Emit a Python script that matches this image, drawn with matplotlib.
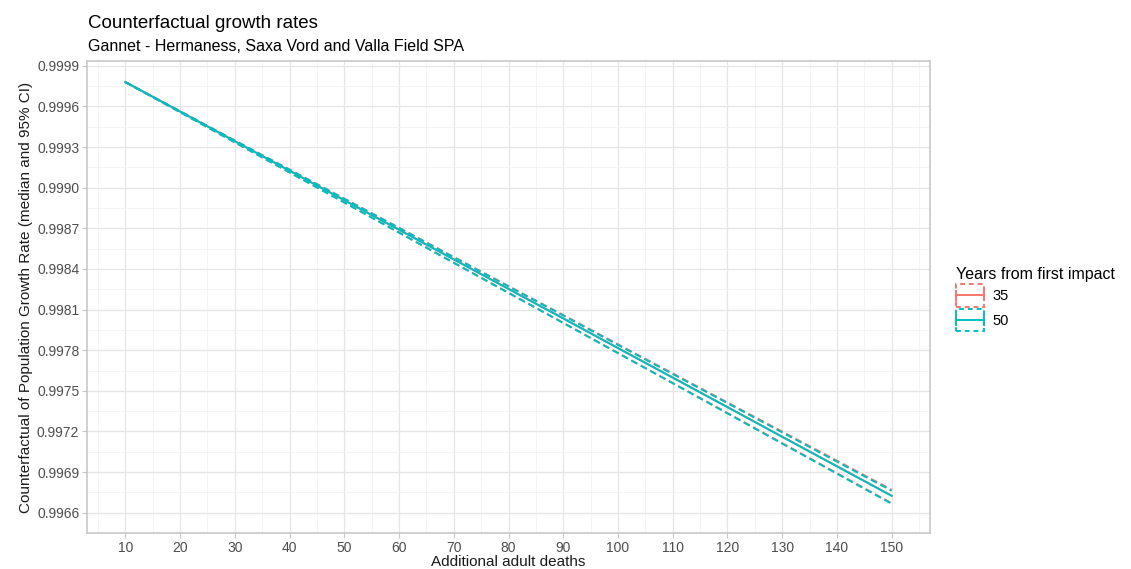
import matplotlib
matplotlib.use("Agg")
import matplotlib.pyplot as plt
from matplotlib.legend_handler import HandlerBase
from matplotlib.lines import Line2D
from matplotlib.patches import Rectangle
import numpy as np

plt.rcParams['font.family'] = ['Liberation Sans', 'DejaVu Sans']

# Additional adult deaths
deaths = [10, 20, 30, 40, 50, 60, 70, 80, 90, 100, 110, 120, 130, 140, 150]

# 35 years from first impact
med_35 = [0.999782, 0.999564, 0.999345, 0.999127, 0.998909, 0.998691, 0.998472,
          0.998254, 0.998036, 0.997817, 0.997599, 0.997381, 0.997162, 0.996944, 0.996726]
upr_35 = [0.999780, 0.999565, 0.999349, 0.999135, 0.998920, 0.998705, 0.998489,
          0.998274, 0.998060, 0.997844, 0.997629, 0.997414, 0.997199, 0.996984, 0.996769]
lwr_35 = [0.999780, 0.999558, 0.999335, 0.999113, 0.998892, 0.998670, 0.998447,
          0.998225, 0.998003, 0.997780, 0.997558, 0.997337, 0.997114, 0.996892, 0.996670]

# 50 years from first impact
med_50 = [0.999780, 0.999562, 0.999343, 0.999125, 0.998907, 0.998689, 0.998470,
          0.998252, 0.998034, 0.997815, 0.997597, 0.997379, 0.997160, 0.996942, 0.996724]
upr_50 = [0.999780, 0.999565, 0.999348, 0.999133, 0.998918, 0.998703, 0.998486,
          0.998271, 0.998056, 0.997839, 0.997624, 0.997409, 0.997193, 0.996977, 0.996762]
lwr_50 = [0.999780, 0.999558, 0.999335, 0.999113, 0.998890, 0.998668, 0.998445,
          0.998223, 0.998001, 0.997778, 0.997556, 0.997333, 0.997110, 0.996888, 0.996666]

groups = ['35', '50']
colours = {'35': '#F8766D', '50': '#00BFC4'}
series = {'35': (med_35, upr_35, lwr_35), '50': (med_50, upr_50, lwr_50)}

LW = 1.4
DASH = (0, (3.5, 2))


class KeyHandler(HandlerBase):
    # dashed box for the interval, solid bar with caps for the median
    def create_artists(self, legend, orig_handle, xdescent, ydescent,
                       width, height, fontsize, trans):
        c = orig_handle.get_color()
        x0, y0 = -xdescent, -ydescent
        box = Rectangle((x0, y0), width, height, fill=False, ec=c,
                        lw=LW, ls=(0, (2.5, 2)), transform=trans)
        ym = y0 + height / 2
        bar = Line2D([x0, x0 + width], [ym, ym], color=c, lw=LW, transform=trans)
        cl = Line2D([x0, x0], [ym - height * 0.2, ym + height * 0.2], color=c, lw=LW, transform=trans)
        cr = Line2D([x0 + width, x0 + width], [ym - height * 0.2, ym + height * 0.2], color=c, lw=LW, transform=trans)
        return [box, bar, cl, cr]


fig = plt.figure(figsize=(11.31, 5.69), dpi=100)
ax = fig.add_axes([87 / 1131, 1 - 533 / 569, (930 - 87) / 1131, (533 - 61) / 569])

handles = []
for g in groups:
    med, upr, lwr = series[g]
    c = colours[g]
    ax.plot(deaths, upr, color=c, lw=LW, ls=DASH)
    ax.plot(deaths, lwr, color=c, lw=LW, ls=DASH)
    h, = ax.plot(deaths, med, color=c, lw=LW)
    handles.append(h)

ax.set_xlim(3, 157)
ax.set_ylim(0.996504, 0.999936)

ax.set_xticks(np.arange(10, 151, 10))
ax.set_xticks(np.arange(5, 157, 5), minor=True)
yt = np.round(np.arange(0.9966, 0.99991, 0.0003), 4)
ax.set_yticks(yt)
ax.set_yticks(np.round(np.arange(0.99645, 0.99995, 0.00015), 5), minor=True)
ax.set_yticklabels([f'{v:.4f}' for v in yt])

ax.grid(which='major', color='#E6E6E6', lw=0.9)
ax.grid(which='minor', color='#F2F2F2', lw=0.6)
ax.set_axisbelow(True)
for s in ax.spines.values():
    s.set_color('#C8C8C8')
    s.set_linewidth(1.2)
ax.tick_params(which='major', length=3.5, width=0.8, color='#C8C8C8',
               labelsize=10, labelcolor='#4D4D4D', pad=2)
ax.tick_params(which='minor', length=0)

ax.set_xlabel('Additional adult deaths', fontsize=11, color='#1A1A1A', labelpad=0)
ax.set_ylabel('Counterfactual of Population Growth Rate (median and 95% CI)',
              fontsize=11, color='#1A1A1A', labelpad=3)

fig.text(88 / 1131, 1 - 28 / 569, 'Counterfactual growth rates',
         fontsize=13.5, va='baseline', ha='left', color='black')
fig.text(88 / 1131, 1 - 51 / 569, 'Gannet - Hermaness, Saxa Vord and Valla Field SPA',
         fontsize=11.5, va='baseline', ha='left', color='black')

fig.legend(handles, groups, handler_map={Line2D: KeyHandler()},
           title='Years from first impact', loc='upper left',
           bbox_to_anchor=(950 / 1131, 1 - 261 / 569), frameon=False,
           fontsize=10.5, title_fontsize=11.5, handlelength=1.9, handleheight=2.0,
           labelspacing=0.15, handletextpad=0.6, borderaxespad=0, alignment='left')

fig.savefig('out.png', dpi=100)
